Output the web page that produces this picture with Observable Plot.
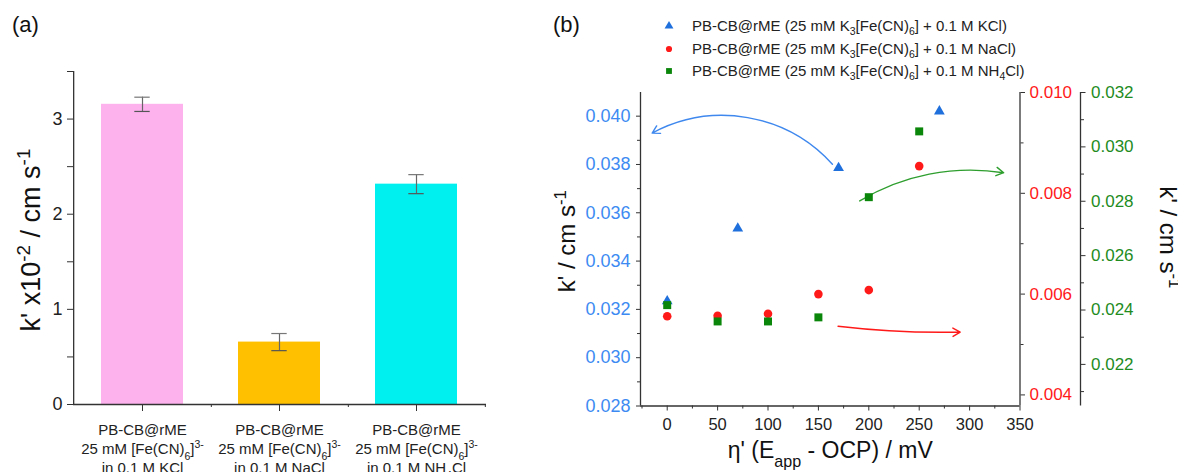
<!DOCTYPE html>
<html><head><meta charset="utf-8">
<script src="https://cdn.jsdelivr.net/npm/d3@7"></script>
<script src="https://cdn.jsdelivr.net/npm/@observablehq/plot@0.6"></script>
<style>
body{margin:0;background:#fff;font-family:"Liberation Sans",Arial,sans-serif;}
#root{position:relative;width:1178px;height:472px;overflow:hidden;background:#fff;}
#root svg.plt{position:absolute;left:0;top:0;}
.panel{position:absolute;font-size:22px;color:#111;top:12px;}
.leg{position:absolute;left:0;height:22px;line-height:22px;font-size:15px;color:#222;white-space:nowrap;}
.leg sub,.leg sup{font-size:70%;line-height:0;}
.leg svg{position:absolute;left:662px;top:4px;}
.leg span{position:absolute;left:692px;top:0;}
</style></head><body><div id="root"></div>
<script>
// ---------- Panel (a) data ----------
const categories = ["KCl", "NaCl", "NH4Cl"];
const barValues = [3.155, 0.656, 2.316];
const barErrors = [0.075, 0.09, 0.10];
const barColors = ["#FDB2EE", "#FFC000", "#00F0F0"];
const barLabels = [
  "PB-CB@rME\n25 mM [Fe(CN)_{6}]^{3-}\nin 0.1 M KCl",
  "PB-CB@rME\n25 mM [Fe(CN)_{6}]^{3-}\nin 0.1 M NaCl",
  "PB-CB@rME\n25 mM [Fe(CN)_{6}]^{3-}\nin 0.1 M NH_{4}Cl"
];
const barYDomain = [0, 3.5];
const barYTicks = [0, 1, 2, 3];
const barYMinor = [0.5, 1.5, 2.5, 3.5];
const barYLabel = "k' x10^{-2} / cm s^{-1}";

// ---------- Panel (b) data ----------
const etaKCl = [0, 70, 170, 270];
const kKCl = [0.03234, 0.03535, 0.03786, 0.0402];
const etaNaCl = [0, 50, 100, 150, 200, 250];
const kNaCl = [0.00556, 0.00557, 0.00561, 0.0060, 0.00608, 0.00854];
const etaNH4Cl = [0, 50, 100, 150, 200, 250];
const kNH4Cl = [0.02418, 0.02358, 0.02358, 0.02373, 0.02815, 0.03057];
const legendLabels = [
  "PB-CB@rME (25 mM K_{3}[Fe(CN)_{6}] + 0.1 M KCl)",
  "PB-CB@rME (25 mM K_{3}[Fe(CN)_{6}] + 0.1 M NaCl)",
  "PB-CB@rME (25 mM K_{3}[Fe(CN)_{6}] + 0.1 M NH_{4}Cl)"
];
const etaDomain = [-26.5, 350];
const etaTicks = [0, 50, 100, 150, 200, 250, 300, 350];
const etaMinor = [-25, 25, 75, 125, 175, 225, 275, 325];
const blueDomain = [0.028, 0.04098];
const blueTicks = [0.028, 0.030, 0.032, 0.034, 0.036, 0.038, 0.040];
const blueMinor = [0.029, 0.031, 0.033, 0.035, 0.037, 0.039];
const redDomain = [0.00378, 0.010];
const redTicks = [0.004, 0.006, 0.008, 0.010];
const redMinor = [0.005, 0.007, 0.009];
const greenDomain = [0.02047, 0.032];
const greenTicks = [0.022, 0.024, 0.026, 0.028, 0.030, 0.032];
const greenMinor = [0.021, 0.023, 0.025, 0.027, 0.029, 0.031];
const xLabelB = "η' (E_{app} - OCP) / mV";
const yLabelB = "k' / cm s^{-1}";
// curved annotation arrows (in η' and blue-axis units)
const blueArrow = [{x1: 163.9, y1: 0.03801, x2: -14.9, y2: 0.03930}];
const greenArrow = [{x1: 191.0, y1: 0.03649, x2: 333.8, y2: 0.03766}];
const redArrow = [{x1: 169.5, y1: 0.03130, x2: 290.7, y2: 0.03106}];

// ---------- styles ----------
const FONT = "'Liberation Sans', Arial, sans-serif";
const AX = "#333";
const BLUE_T = "#3D8BF2", BLUE_M = "#1F6FDD", BLUE_A = "#3F88EE";
const RED = "#FF1A1A", GREEN_T = "#1E8C1E", GREEN_M = "#0A860A", GREEN_A = "#2E9E2E";
const baseStyle = {background: "transparent", fontFamily: FONT, color: "#222", overflow: "visible"};

function rich(root) {
  root.querySelectorAll("text, tspan").forEach(el => {
    if (el.children.length) return;
    const s = el.textContent;
    if (!/[_^]\{/.test(s)) return;
    el.textContent = "";
    const re = /([_^])\{([^}]*)\}/g;
    let last = 0, m;
    while ((m = re.exec(s))) {
      if (m.index > last) el.appendChild(document.createTextNode(s.slice(last, m.index)));
      const t = document.createElementNS("http://www.w3.org/2000/svg", "tspan");
      t.setAttribute("baseline-shift", m[1] === "_" ? "sub" : "super");
      t.style.fontSize = "0.7em";
      t.textContent = m[2];
      el.appendChild(t);
      last = re.lastIndex;
    }
    if (last < s.length) el.appendChild(document.createTextNode(s.slice(last)));
  });
}
const toHTML = s => s.replace(/_\{([^}]*)\}/g, "<sub>$1</sub>").replace(/\^\{([^}]*)\}/g, "<sup>$1</sup>");

const root = document.getElementById("root");
function add(svg) { svg.classList.add("plt"); rich(svg); root.appendChild(svg); }

// ---------- Panel (a) ----------
const barTable = categories.map((c, i) => ({cat: c, value: barValues[i], lo: barValues[i] - barErrors[i], hi: barValues[i] + barErrors[i], label: barLabels[i]}));
const aW = 520, aML = 73, aMR = 34;
const aStep = (aW - aML - aMR) / categories.length;
const capInset = (aStep * 0.6 - 16) / 2;
add(Plot.plot({
  width: aW, height: 472, marginLeft: aML, marginRight: aMR, marginTop: 71, marginBottom: 68,
  style: baseStyle,
  x: {domain: categories, paddingInner: 0.4, paddingOuter: 0.2},
  y: {domain: barYDomain},
  color: {domain: categories, range: barColors},
  marks: [
    Plot.barY(barTable, {x: "cat", y: "value", fill: "cat"}),
    Plot.ruleX(barTable, {x: "cat", y1: "lo", y2: "hi", stroke: "#666", strokeWidth: 1.2}),
    Plot.tickY(barTable, {x: "cat", y: "lo", stroke: "#555", strokeWidth: 1.2, insetLeft: capInset, insetRight: capInset}),
    Plot.tickY(barTable, {x: "cat", y: "hi", stroke: "#777", strokeWidth: 1.2, insetLeft: capInset, insetRight: capInset}),
    Plot.ruleY([barYDomain[0]], {stroke: AX, strokeWidth: 1.3}),
    Plot.ruleX([categories[0]], {y1: barYDomain[0], y2: barYDomain[1], dx: -aStep / 2, stroke: AX, strokeWidth: 1.3}),
    Plot.axisY({ticks: barYTicks, tickSize: 6, tickPadding: 5, fontSize: 18, tickFormat: d3.format("d"), stroke: AX, label: null}),
    Plot.axisY({ticks: barYMinor, tickSize: 6, tickFormat: () => "", stroke: AX, label: null}),
    Plot.axisX({tickSize: 7, tickFormat: () => "", stroke: AX, label: null}),
    Plot.axisX({tickSize: 3, tickFormat: () => "", dx: aStep / 2, stroke: AX, label: null}),
    Plot.text(barTable, {x: "cat", text: "label", frameAnchor: "bottom", lineAnchor: "top", dy: 17.5, lineHeight: 1.25, fontSize: 15, fill: "#222"}),
    Plot.text([barYLabel], {text: d => d, frameAnchor: "left", textAnchor: "middle", rotate: -90, dx: -42, dy: 2, fontSize: 27, fill: "#111"})
  ]
}));

// ---------- Panel (b) ----------
const bW = 1178, bH = 472;
const bOpts = {width: bW, height: bH, marginLeft: 640, marginRight: 158.5, marginTop: 92, marginBottom: 66.5, style: baseStyle};
const kcl = etaKCl.map((x, i) => ({x, y: kKCl[i]}));
const nacl = etaNaCl.map((x, i) => ({x, y: kNaCl[i]}));
const nh4 = etaNH4Cl.map((x, i) => ({x, y: kNH4Cl[i]}));

// blue (left) axis layer
add(Plot.plot({
  ...bOpts,
  x: {domain: etaDomain},
  y: {domain: blueDomain},
  marks: [
    Plot.ruleY([blueDomain[0]], {stroke: AX, strokeWidth: 1.3}),
    Plot.ruleX([etaDomain[0]], {stroke: AX, strokeWidth: 1.3}),
    Plot.axisX({ticks: etaTicks, tickSize: 5, tickPadding: 7, fontSize: 16.5, stroke: AX, fill: "#222", label: null}),
    Plot.axisX({ticks: etaMinor, tickSize: 3, tickFormat: () => "", stroke: AX, label: null}),
    Plot.axisY({ticks: blueTicks, tickSize: 4, tickPadding: 6, fontSize: 18, tickFormat: d3.format(".3f"), stroke: AX, fill: BLUE_T, label: null}),
    Plot.axisY({ticks: blueMinor, tickSize: 3, tickFormat: () => "", stroke: AX, label: null}),
    Plot.text([xLabelB], {text: d => d, frameAnchor: "bottom", textAnchor: "middle", dy: 52, fontSize: 23, fill: "#111"}),
    Plot.text([yLabelB], {text: d => d, frameAnchor: "left", textAnchor: "middle", rotate: -90, dx: -73, dy: -8, fontSize: 24, fill: "#111"}),
    Plot.arrow(blueArrow, {x1: "x1", y1: "y1", x2: "x2", y2: "y2", bend: -38, stroke: BLUE_A, strokeWidth: 1.4, headLength: 9}),
    Plot.arrow(greenArrow, {x1: "x1", y1: "y1", x2: "x2", y2: "y2", bend: 20, stroke: GREEN_A, strokeWidth: 1.4, headLength: 9}),
    Plot.arrow(redArrow, {x1: "x1", y1: "y1", x2: "x2", y2: "y2", bend: -4, stroke: RED, strokeWidth: 1.4, headLength: 9}),
    Plot.dot(kcl, {x: "x", y: "y", symbol: "triangle", r: 4, fill: BLUE_M, stroke: "none"})
  ]
}));

// red (first right) axis layer
add(Plot.plot({
  ...bOpts,
  x: {domain: etaDomain, axis: null},
  y: {domain: redDomain},
  marks: [
    Plot.ruleX([etaDomain[1]], {stroke: AX, strokeWidth: 1.3}),
    Plot.axisY({anchor: "right", ticks: redTicks, tickSize: 4.5, tickPadding: 5, fontSize: 17, tickFormat: d3.format(".3f"), stroke: AX, fill: RED, label: null}),
    Plot.axisY({anchor: "right", ticks: redMinor, tickSize: 3, tickFormat: () => "", stroke: AX, label: null}),
    Plot.dot(nacl, {x: "x", y: "y", r: 4.3, fill: RED, stroke: "none"})
  ]
}));

// green (second right) axis layer
const gOff = 60.5;
add(Plot.plot({
  ...bOpts,
  x: {domain: etaDomain, axis: null},
  y: {domain: greenDomain},
  marks: [
    Plot.ruleX([etaDomain[1]], {dx: gOff, stroke: AX, strokeWidth: 1.3}),
    Plot.axisY({anchor: "right", dx: gOff, ticks: greenTicks, tickSize: 4.5, tickPadding: 6, fontSize: 17, tickFormat: d3.format(".3f"), stroke: AX, fill: GREEN_T, label: null}),
    Plot.axisY({anchor: "right", dx: gOff, ticks: greenMinor, tickSize: 3, tickFormat: () => "", stroke: AX, label: null}),
    Plot.text([yLabelB], {text: d => d, frameAnchor: "right", textAnchor: "middle", rotate: 90, dx: 148, dy: -12, fontSize: 24, fill: "#111"}),
    Plot.dot(nh4, {x: "x", y: "y", symbol: "square", r: 4.5, fill: GREEN_M, stroke: "none"})
  ]
}));

// panel letters
for (const [t, l] of [["(a)", 12], ["(b)", 553]]) {
  const d = document.createElement("div");
  d.className = "panel"; d.style.left = l + "px"; d.textContent = t;
  root.appendChild(d);
}
// legend for panel (b)
const legSym = [[d3.symbolTriangle, BLUE_M, 34], [d3.symbolCircle, RED, 30], [d3.symbolSquare, GREEN_M, 34]];
const legRowY = [26, 48.5, 71];
legendLabels.forEach((lab, i) => {
  const row = document.createElement("div");
  row.className = "leg";
  row.style.top = (legRowY[i] - 11) + "px";
  const [sym, col, size] = legSym[i];
  row.innerHTML = `<svg width="14" height="14" viewBox="-7 -7 14 14"><path d="${d3.symbol(sym, size)()}" fill="${col}"/></svg><span>${toHTML(lab)}</span>`;
  root.appendChild(row);
});
</script></body></html>
